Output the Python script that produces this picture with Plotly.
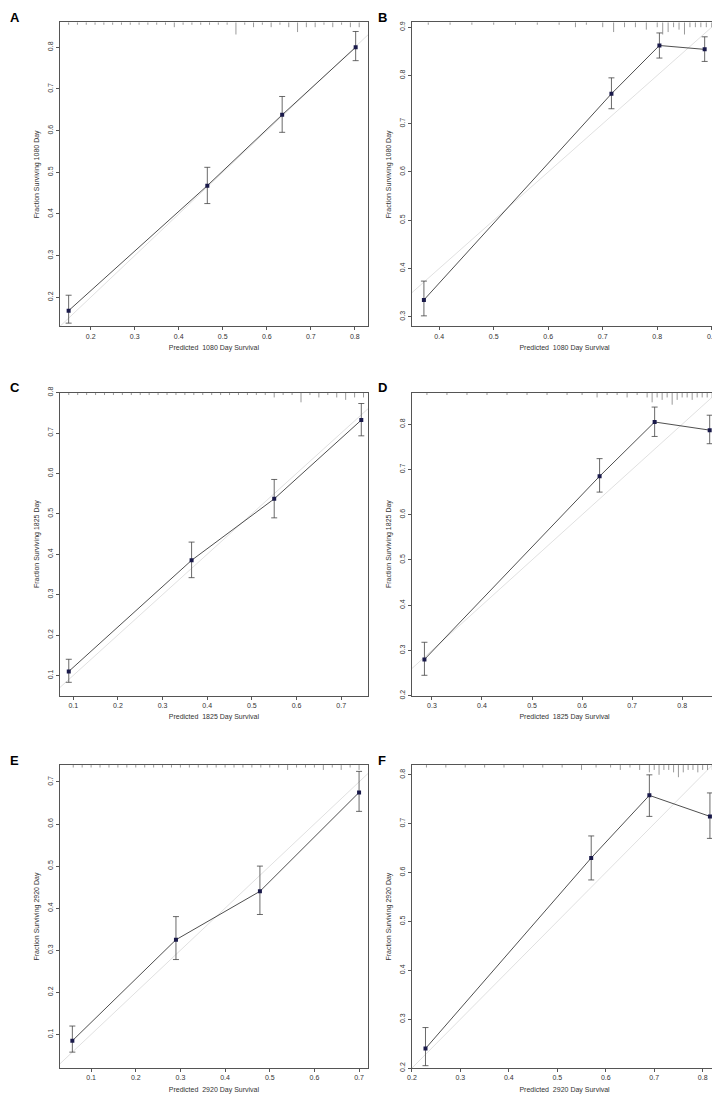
import plotly.graph_objects as go

# ---- data ----
panel_labels = ["A", "B", "C", "D", "E", "F"]
days = ["1080", "1080", "1825", "1825", "2920", "2920"]

pred_x = [
    [0.150, 0.465, 0.635, 0.802],
    [0.372, 0.716, 0.804, 0.887],
    [0.090, 0.365, 0.550, 0.745],
    [0.285, 0.635, 0.745, 0.855],
    [0.058, 0.290, 0.478, 0.700],
    [0.228, 0.570, 0.690, 0.815],
]
obs_y = [
    [0.168, 0.468, 0.638, 0.800],
    [0.335, 0.762, 0.862, 0.854],
    [0.110, 0.385, 0.537, 0.732],
    [0.280, 0.685, 0.805, 0.787],
    [0.085, 0.325, 0.440, 0.675],
    [0.240, 0.630, 0.758, 0.715],
]
ci_lo = [
    [0.138, 0.425, 0.596, 0.768],
    [0.302, 0.731, 0.836, 0.829],
    [0.083, 0.342, 0.490, 0.693],
    [0.245, 0.650, 0.773, 0.757],
    [0.058, 0.278, 0.385, 0.630],
    [0.205, 0.585, 0.715, 0.670],
]
ci_hi = [
    [0.205, 0.512, 0.682, 0.838],
    [0.374, 0.795, 0.888, 0.880],
    [0.140, 0.430, 0.585, 0.773],
    [0.318, 0.724, 0.838, 0.820],
    [0.120, 0.380, 0.500, 0.725],
    [0.283, 0.675, 0.800, 0.763],
]
x_ranges = [[0.13, 0.83], [0.35, 0.91], [0.07, 0.76], [0.26, 0.87], [0.03, 0.72], [0.20, 0.83]]
y_ranges = [[0.13, 0.86], [0.28, 0.91], [0.05, 0.80], [0.20, 0.87], [0.02, 0.74], [0.20, 0.82]]

# rug of predicted values along the top edge (positions, relative lengths)
rug_x = [
    [0.15, 0.17, 0.19, 0.21, 0.23, 0.25, 0.27, 0.29, 0.31, 0.33, 0.35, 0.37, 0.39, 0.41, 0.43, 0.45, 0.47,
     0.49, 0.51, 0.53, 0.55, 0.57, 0.59, 0.61, 0.63, 0.65, 0.67, 0.69, 0.71, 0.73, 0.75, 0.77, 0.79, 0.81],
    [0.38, 0.42, 0.46, 0.50, 0.54, 0.58, 0.62, 0.65, 0.67, 0.70, 0.72, 0.74, 0.76, 0.78, 0.80, 0.81,
     0.82, 0.83, 0.84, 0.85, 0.86, 0.87, 0.88, 0.89, 0.90],
    [0.09, 0.11, 0.13, 0.15, 0.17, 0.19, 0.21, 0.23, 0.25, 0.27, 0.29, 0.31, 0.33, 0.35, 0.37, 0.39, 0.41,
     0.43, 0.45, 0.47, 0.49, 0.51, 0.53, 0.55, 0.57, 0.59, 0.61, 0.63, 0.65, 0.67, 0.69, 0.71, 0.73, 0.75],
    [0.29, 0.33, 0.37, 0.41, 0.45, 0.49, 0.53, 0.57, 0.60, 0.63, 0.65, 0.67, 0.69, 0.71, 0.73, 0.74,
     0.75, 0.76, 0.77, 0.78, 0.79, 0.80, 0.81, 0.82, 0.83, 0.84, 0.85, 0.86],
    [0.06, 0.08, 0.10, 0.12, 0.14, 0.16, 0.18, 0.20, 0.22, 0.24, 0.26, 0.28, 0.30, 0.32, 0.34, 0.36, 0.38,
     0.40, 0.42, 0.44, 0.46, 0.48, 0.50, 0.52, 0.54, 0.56, 0.58, 0.60, 0.62, 0.64, 0.66, 0.68, 0.70],
    [0.23, 0.27, 0.31, 0.35, 0.39, 0.43, 0.47, 0.51, 0.55, 0.58, 0.61, 0.63, 0.65, 0.67, 0.69, 0.70,
     0.71, 0.72, 0.73, 0.74, 0.75, 0.76, 0.77, 0.78, 0.79, 0.80, 0.81, 0.82],
]
rug_len = [
    [1, 1, 1, 1, 1, 1, 1, 1, 1, 1, 1, 1, 2, 1, 1, 1, 1, 1, 1, 5, 1, 2, 1, 2, 1, 2, 4, 2, 2, 1, 2, 1, 2, 2],
    [1, 1, 1, 1, 1, 1, 1, 2, 1, 2, 4, 2, 2, 3, 2, 5, 4, 2, 3, 5, 2, 2, 2, 2, 2],
    [1, 1, 1, 1, 1, 1, 1, 1, 1, 1, 1, 1, 1, 1, 1, 1, 1, 1, 1, 1, 1, 1, 1, 2, 1, 1, 4, 1, 2, 1, 2, 3, 2, 2],
    [1, 1, 1, 1, 1, 1, 1, 1, 1, 2, 1, 1, 2, 1, 2, 4, 2, 3, 2, 5, 3, 2, 2, 3, 2, 2, 2, 2],
    [1, 1, 1, 1, 1, 1, 1, 1, 1, 1, 1, 1, 1, 1, 1, 1, 1, 1, 1, 1, 1, 1, 1, 1, 2, 1, 1, 1, 2, 1, 2, 1, 2],
    [1, 1, 1, 1, 1, 1, 1, 1, 2, 1, 1, 2, 1, 2, 3, 2, 4, 2, 2, 3, 5, 3, 2, 2, 3, 2, 2, 2],
]

x_domains = [[0.072, 0.50], [0.561, 0.985]]
y_domains = [[0.711, 0.987], [0.376, 0.651], [0.038, 0.313]]

fig = go.Figure()
font = dict(family="Liberation Sans, Arial", size=7, color="#333")

for i in range(6):
    r, c = divmod(i, 2)
    n = i + 1
    xa, ya = ("x" if n == 1 else f"x{n}"), ("y" if n == 1 else f"y{n}")
    xr, yr = x_ranges[i], y_ranges[i]

    # ideal line
    fig.add_trace(go.Scatter(x=xr, y=xr, mode="lines", xaxis=xa, yaxis=ya,
                             line=dict(color="#d8d8d8", width=0.8), showlegend=False))
    # observed calibration curve
    fig.add_trace(go.Scatter(
        x=pred_x[i], y=obs_y[i], mode="lines+markers", xaxis=xa, yaxis=ya,
        line=dict(color="#222", width=0.8),
        marker=dict(color="#1a1a4a", size=4, symbol="square"),
        error_y=dict(type="data", symmetric=False,
                     array=[h - y for h, y in zip(ci_hi[i], obs_y[i])],
                     arrayminus=[y - l for l, y in zip(ci_lo[i], obs_y[i])],
                     color="#444", thickness=0.8, width=3),
        showlegend=False))

    # rug
    unit = (yr[1] - yr[0]) * 0.008
    rx, ry = [], []
    for p, L in zip(rug_x[i], rug_len[i]):
        rx += [p, p, None]
        ry += [yr[1], yr[1] - L * unit, None]
    fig.add_trace(go.Scatter(x=rx, y=ry, mode="lines", xaxis=xa, yaxis=ya,
                             line=dict(color="#555", width=0.6), showlegend=False))

    ax = dict(range=xr, domain=x_domains[c], anchor=ya, showline=True, mirror=True,
              linecolor="#555", linewidth=0.8, ticks="outside", ticklen=3, tickcolor="#555",
              showgrid=False, zeroline=False, dtick=0.1, tickfont=font, automargin=False,
              title=dict(text=f"Predicted  {days[i]} Day Survival", font=font, standoff=6))
    ay = dict(range=yr, domain=y_domains[r], anchor=xa, showline=True, mirror=True,
              linecolor="#555", linewidth=0.8, ticks="outside", ticklen=3, tickcolor="#555",
              showgrid=False, zeroline=False, dtick=0.1, tickfont=font, tickangle=-90,
              automargin=False,
              title=dict(text=f"Fraction Surviving {days[i]} Day", font=font, standoff=6))
    fig.layout[f"xaxis{'' if n == 1 else n}"] = ax
    fig.layout[f"yaxis{'' if n == 1 else n}"] = ay

    fig.add_annotation(text=f"<b>{panel_labels[i]}</b>", xref="paper", yref="paper",
                       x=x_domains[c][0] - (0.072 if c == 0 else 0.05), y=y_domains[r][1] + 0.013,
                       xanchor="left", yanchor="top", showarrow=False,
                       font=dict(family="Liberation Sans, Arial", size=13, color="black"))

fig.update_layout(width=720, height=1102, margin=dict(l=0, r=0, t=0, b=0, autoexpand=False),
                  plot_bgcolor="white", paper_bgcolor="white")
fig.write_html("out.html")
